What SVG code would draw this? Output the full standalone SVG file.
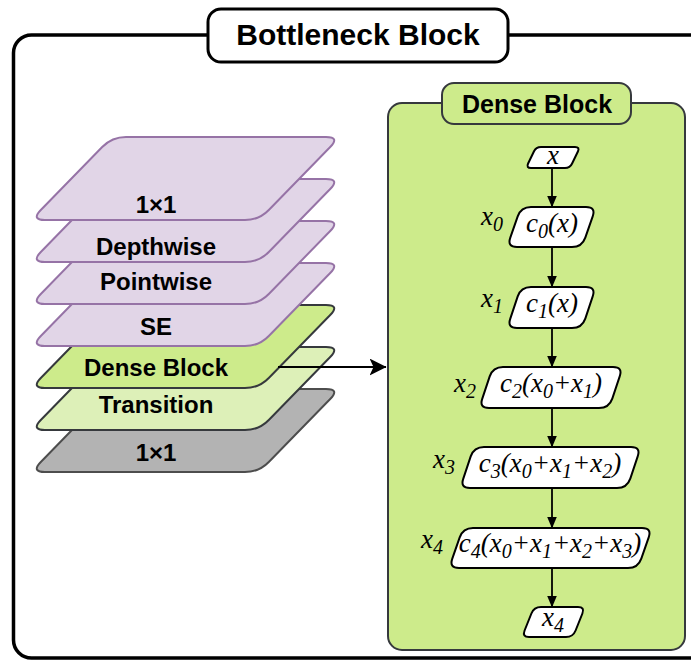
<svg xmlns="http://www.w3.org/2000/svg" width="691" height="660" viewBox="0 0 691 660">
<style>
.lbl{font-family:"Liberation Sans",Arial,sans-serif;font-weight:bold;fill:#000;text-anchor:middle}
.m{font-family:"Liberation Serif","Times New Roman",serif;font-style:italic;font-size:27px;fill:#000}
.sub{font-size:20px}
.node{fill:#fff;stroke:#000;stroke-width:2}
.purple{fill:#e1d5e7;stroke:#9673a6;stroke-width:2}
.green{fill:#cdeb8b;stroke:#36393d;stroke-width:2}
.lgreen{fill:#ddf0b8;stroke:#36393d;stroke-width:2}
.gray{fill:#b3b3b3;stroke:#4d4d4d;stroke-width:2}
.flow{stroke:#000;stroke-width:1.8;fill:none}
</style>
<defs>
<path id="layer" d="M126,0 L326,0 Q340,0 330.2,10 L268.8,73 Q259,83 245,83 L45,83 Q31,83 40.8,73 L102.2,10 Q112,0 126,0 Z"/>
<marker id="ah" markerUnits="userSpaceOnUse" markerWidth="12" markerHeight="10" viewBox="0 0 12 10" refX="11.5" refY="5" orient="auto">
<path d="M0,0 L12,5 L0,10 Z" fill="#000"/>
</marker>
<marker id="ahBig" markerUnits="userSpaceOnUse" markerWidth="17" markerHeight="17" viewBox="0 0 17 17" refX="16.5" refY="8.5" orient="auto">
<path d="M0,0 L17,8.5 L0,17 L4,8.5 Z" fill="#000"/>
</marker>
</defs>

<g id="bottleneck-frame">
<rect x="13.5" y="35" width="720" height="623" rx="18" fill="none" stroke="#000" stroke-width="3.5"/>
<rect x="208" y="9" width="300" height="53" rx="13" fill="#fff" stroke="#000" stroke-width="3"/>
<text class="lbl" x="358" y="45" font-size="30">Bottleneck Block</text>
</g>

<g id="layer-1x1-bottom">
<use href="#layer" class="gray" transform="translate(0,389)"/>
<text class="lbl" x="156" y="461" font-size="24">1×1</text>
</g>
<g id="layer-transition">
<use href="#layer" class="lgreen" transform="translate(0,347)"/>
<text class="lbl" x="156" y="413" font-size="24">Transition</text>
</g>
<g id="layer-dense">
<use href="#layer" class="green" transform="translate(0,305)"/>
<text class="lbl" x="156" y="376" font-size="24">Dense Block</text>
</g>
<g id="layer-se">
<use href="#layer" class="purple" transform="translate(0,263)"/>
<text class="lbl" x="156" y="335" font-size="24">SE</text>
</g>
<g id="layer-pointwise">
<use href="#layer" class="purple" transform="translate(0,221)"/>
<text class="lbl" x="156" y="290" font-size="24">Pointwise</text>
</g>
<g id="layer-depthwise">
<use href="#layer" class="purple" transform="translate(0,179)"/>
<text class="lbl" x="156" y="255" font-size="24">Depthwise</text>
</g>
<g id="layer-1x1-top">
<use href="#layer" class="purple" transform="translate(0,137)"/>
<text class="lbl" x="156" y="213" font-size="24">1×1</text>
</g>

<g id="dense-block">
<rect x="388" y="103" width="297" height="547" rx="14" class="green"/>
<rect x="442" y="83" width="189" height="41" rx="12" class="green"/>
<text class="lbl" x="537" y="113" font-size="25">Dense Block</text>
</g>

<g id="node-x">
<path class="node" d="M541,147 L575,147 Q580,147 577.9,151.5 L572.1,163.5 Q570,168 565,168 L531,168 Q526,168 528.1,163.5 L533.9,151.5 Q536,147 541,147 Z"/>
<text class="m" x="553" y="164" text-anchor="middle">x</text>
</g>
<g id="node-c0">
<path class="node" d="M531,207 L586,207 Q596,207 592.7,216.4 L585.3,237.6 Q582,247 572,247 L517,247 Q507,247 510.3,237.6 L517.7,216.4 Q521,207 531,207 Z"/>
<text class="m" x="552" y="232" text-anchor="middle">c<tspan class="sub" dy="6">0</tspan><tspan dy="-6">(x)</tspan></text>
<text class="m" x="503" y="225" text-anchor="end">x<tspan class="sub" dy="6">0</tspan></text>
</g>
<g id="node-c1">
<path class="node" d="M531,287 L586,287 Q596,287 592.7,296.4 L585.3,318.6 Q582,328 572,328 L517,328 Q507,328 510.3,318.6 L517.7,296.4 Q521,287 531,287 Z"/>
<text class="m" x="552" y="312" text-anchor="middle">c<tspan class="sub" dy="6">1</tspan><tspan dy="-6">(x)</tspan></text>
<text class="m" x="503" y="307" text-anchor="end">x<tspan class="sub" dy="6">1</tspan></text>
</g>
<g id="node-c2">
<path class="node" d="M503,367 L613,367 Q623,367 619.7,376.4 L612.3,398.6 Q609,408 599,408 L489,408 Q479,408 482.3,398.6 L489.7,376.4 Q493,367 503,367 Z"/>
<text class="m" x="551" y="392" text-anchor="middle">c<tspan class="sub" dy="6">2</tspan><tspan dy="-6">(x</tspan><tspan class="sub" dy="6">0</tspan><tspan dy="-6">+x</tspan><tspan class="sub" dy="6">1</tspan><tspan dy="-6">)</tspan></text>
<text class="m" x="476" y="392" text-anchor="end">x<tspan class="sub" dy="6">2</tspan></text>
</g>
<g id="node-c3">
<path class="node" d="M484,447 L631,447 Q641,447 637.7,456.4 L630.3,478.6 Q627,488 617,488 L470,488 Q460,488 463.3,478.6 L470.7,456.4 Q474,447 484,447 Z"/>
<text class="m" x="550" y="472" text-anchor="middle">c<tspan class="sub" dy="6">3</tspan><tspan dy="-6">(x</tspan><tspan class="sub" dy="6">0</tspan><tspan dy="-6">+x</tspan><tspan class="sub" dy="6">1</tspan><tspan dy="-6">+x</tspan><tspan class="sub" dy="6">2</tspan><tspan dy="-6">)</tspan></text>
<text class="m" x="455" y="468" text-anchor="end">x<tspan class="sub" dy="6">3</tspan></text>
</g>
<g id="node-c4">
<path class="node" d="M473,528 L642,528 Q652,528 648.7,537.4 L641.3,558.6 Q638,568 628,568 L459,568 Q449,568 452.3,558.6 L459.7,537.4 Q463,528 473,528 Z"/>
<text class="m" x="550" y="552" text-anchor="middle">c<tspan class="sub" dy="6">4</tspan><tspan dy="-6">(x</tspan><tspan class="sub" dy="6">0</tspan><tspan dy="-6">+x</tspan><tspan class="sub" dy="6">1</tspan><tspan dy="-6">+x</tspan><tspan class="sub" dy="6">2</tspan><tspan dy="-6">+x</tspan><tspan class="sub" dy="6">3</tspan><tspan dy="-6">)</tspan></text>
<text class="m" x="443" y="548" text-anchor="end">x<tspan class="sub" dy="6">4</tspan></text>
</g>
<g id="node-x4">
<path class="node" d="M541,607 L578,607 Q585,607 582.4,613.5 L575.6,630.5 Q573,637 566,637 L529,637 Q522,637 524.6,630.5 L531.4,613.5 Q534,607 541,607 Z"/>
<text class="m" x="553" y="626" text-anchor="middle">x<tspan class="sub" dy="6">4</tspan></text>
</g>

<g id="connectors">
<line class="flow" x1="552" y1="168" x2="552" y2="207" marker-end="url(#ah)"/>
<line class="flow" x1="552" y1="247" x2="552" y2="287" marker-end="url(#ah)"/>
<line class="flow" x1="552" y1="328" x2="552" y2="367" marker-end="url(#ah)"/>
<line class="flow" x1="552" y1="408" x2="552" y2="447" marker-end="url(#ah)"/>
<line class="flow" x1="552" y1="488" x2="552" y2="528" marker-end="url(#ah)"/>
<line class="flow" x1="552" y1="568" x2="552" y2="607" marker-end="url(#ah)"/>
<line class="flow" x1="278" y1="367" x2="386" y2="367" stroke-width="2" marker-end="url(#ahBig)"/>
</g>
</svg>
